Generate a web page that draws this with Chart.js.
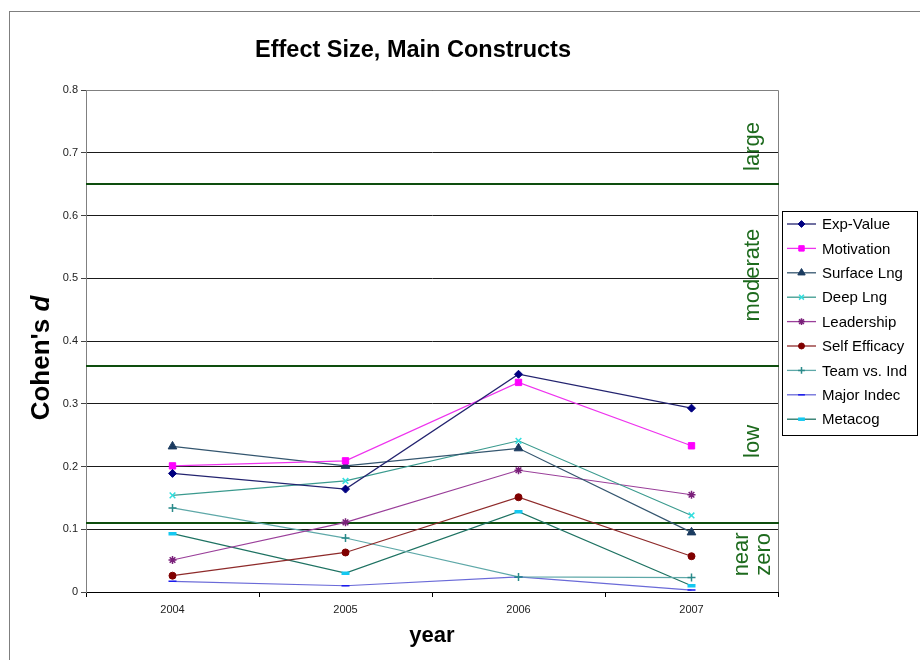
<!DOCTYPE html>
<html>
<head>
<meta charset="utf-8">
<title>Effect Size, Main Constructs</title>
<script src="https://cdn.jsdelivr.net/npm/chart.js@4.4.1/dist/chart.umd.min.js"></script>
<style>
  body { margin: 0; background: #fff; }
  #wrap { width: 920px; height: 660px; }
</style>
</head>
<body>
<div id="wrap"><canvas id="effect-chart" width="920" height="660"></canvas></div>
<script>
// values
const years = ['2004', '2005', '2006', '2007'];
const yTickLabels = ['0', '0.1', '0.2', '0.3', '0.4', '0.5', '0.6', '0.7', '0.8'];

const seriesNames = ['Exp-Value', 'Motivation', 'Surface Lng', 'Deep Lng', 'Leadership',
                     'Self Efficacy', 'Team vs. Ind', 'Major Indec', 'Metacog'];
const expValue     = [0.189, 0.164, 0.347, 0.293];
const motivation   = [0.201, 0.209, 0.334, 0.233];
const surfaceLng   = [0.232, 0.201, 0.229, 0.095];
const deepLng      = [0.154, 0.177, 0.241, 0.122];
const leadership   = [0.051, 0.111, 0.194, 0.155];
const selfEfficacy = [0.026, 0.063, 0.151, 0.057];
const teamVsInd    = [0.134, 0.086, 0.024, 0.023];
const majorIndec   = [0.017, 0.010, 0.024, 0.003];
const metacog      = [0.093, 0.030, 0.128, 0.010];

// Cohen's d cut-offs and the zone names between them
const effectCutoffs = [0.11, 0.36, 0.65];
const zoneNames = [['near', 'zero'], ['low'], ['moderate'], ['large']];

const FONT = '"Liberation Sans", Arial, sans-serif';

const styles = [
  { line: '#23236f', mark: '#000080', shape: 'rectRot', r: 4 },
  { line: '#ee33ee', mark: '#ff00ff', shape: 'rect', r: 4.5 },
  { line: '#34566f', mark: '#1b3b60', shape: 'triangle', r: 5 },
  { line: '#3a9a8e', mark: '#33dede', shape: 'crossRot', r: 4 },
  { line: '#9a3f9a', mark: '#7a1f7a', shape: 'star', r: 4 },
  { line: '#8e2a2a', mark: '#800000', shape: 'circle', r: 3.5 },
  { line: '#5ea8a8', mark: '#2a8a8a', shape: 'cross', r: 4 },
  { line: '#6a6ad8', mark: '#1a1aee', shape: 'line', r: 4 },
  { line: '#1e7262', mark: '#14c8f0', shape: 'line', r: 4 }
];
const allValues = [expValue, motivation, surfaceLng, deepLng, leadership,
                   selfEfficacy, teamVsInd, majorIndec, metacog];

const datasets = allValues.map((vals, i) => {
  const s = styles[i];
  const stroked = ['crossRot', 'star', 'cross', 'line'].includes(s.shape);
  return {
    label: seriesNames[i],
    data: vals,
    borderColor: s.line,
    borderWidth: 1.2,
    pointStyle: s.shape,
    pointRadius: s.r,
    pointBackgroundColor: s.mark,
    pointBorderColor: s.mark,
    pointBorderWidth: stroked ? (i === 8 ? 3.5 : 1.5) : 1,
    tension: 0,
    fill: false
  };
});

const decorations = {
  id: 'decorations',
  beforeDraw(chart) {
    const ctx = chart.ctx;
    ctx.save();
    ctx.fillStyle = '#fff';
    ctx.fillRect(0, 0, chart.width, chart.height);
    // outer frame (runs off the right and bottom edges)
    ctx.strokeStyle = '#7f7f7f';
    ctx.lineWidth = 1;
    ctx.strokeRect(9.5, 11.5, chart.width + 20, chart.height + 20);
    // chart title
    ctx.fillStyle = '#000';
    ctx.font = 'bold 23.5px ' + FONT;
    ctx.textAlign = 'center';
    ctx.textBaseline = 'alphabetic';
    ctx.fillText('Effect Size, Main Constructs', 413, 57);
    // y title with italic d
    const a = chart.chartArea;
    ctx.translate(49, (a.top + a.bottom) / 2 + 17);
    ctx.rotate(-Math.PI / 2);
    ctx.textAlign = 'left';
    ctx.font = 'bold 26px ' + FONT;
    const part1 = "Cohen's ";
    const w1 = ctx.measureText(part1).width;
    ctx.font = 'italic bold 26px ' + FONT;
    const w2 = ctx.measureText('d').width;
    const start = -(w1 + w2) / 2;
    ctx.font = 'bold 26px ' + FONT;
    ctx.fillText(part1, start, 0);
    ctx.font = 'italic bold 26px ' + FONT;
    ctx.fillText('d', start + w1, 0);
    ctx.restore();
  },
  beforeDatasetsDraw(chart) {
    const { ctx, chartArea: a, scales: { y } } = chart;
    ctx.save();
    // plot area border, top and right
    ctx.strokeStyle = '#808080';
    ctx.lineWidth = 1;
    ctx.beginPath();
    ctx.moveTo(a.left, Math.round(a.top) + 0.5);
    ctx.lineTo(Math.round(a.right) + 0.5, Math.round(a.top) + 0.5);
    ctx.lineTo(Math.round(a.right) + 0.5, a.bottom);
    ctx.stroke();
    // cut-off lines
    ctx.strokeStyle = '#0e4d0e';
    ctx.lineWidth = 2;
    effectCutoffs.forEach(c => {
      const py = Math.round(y.getPixelForValue(c));
      ctx.beginPath();
      ctx.moveTo(a.left, py);
      ctx.lineTo(a.right + 1, py);
      ctx.stroke();
    });
    // zone names
    const labelAt = [0.06, 0.24, 0.505, 0.71];
    ctx.fillStyle = '#1d6a1d';
    ctx.font = '22px ' + FONT;
    ctx.textAlign = 'center';
    ctx.textBaseline = 'alphabetic';
    zoneNames.forEach((lines, i) => {
      const py = y.getPixelForValue(labelAt[i]);
      lines.forEach((txt, j) => {
        const px = 759 + (j - (lines.length - 1) / 2) * 22;
        ctx.save();
        ctx.translate(px, py);
        ctx.rotate(-Math.PI / 2);
        ctx.fillText(txt, 0, 0);
        ctx.restore();
      });
    });
    ctx.restore();
  },
  afterDraw(chart) {
    const ctx = chart.ctx;
    ctx.save();
    // legend box
    ctx.fillStyle = '#fff';
    ctx.fillRect(782, 211, 136, 225);
    ctx.strokeStyle = '#000';
    ctx.lineWidth = 1;
    ctx.strokeRect(782.5, 211.5, 135, 224);
    ctx.font = '15px ' + FONT;
    ctx.textAlign = 'left';
    ctx.textBaseline = 'middle';
    chart.data.datasets.forEach((ds, i) => {
      const ly = 224 + i * 24.4;
      ctx.strokeStyle = ds.borderColor;
      ctx.lineWidth = 1.3;
      ctx.beginPath();
      ctx.moveTo(787, ly);
      ctx.lineTo(816, ly);
      ctx.stroke();
      ctx.fillStyle = ds.pointBackgroundColor;
      ctx.strokeStyle = ds.pointBorderColor;
      ctx.lineWidth = ds.pointBorderWidth;
      if (Chart.helpers && Chart.helpers.drawPoint) {
        Chart.helpers.drawPoint(ctx, {
          pointStyle: ds.pointStyle,
          radius: ds.pointRadius * 0.85,
          rotation: 0,
          borderWidth: ds.pointBorderWidth
        }, 801.5, ly);
      }
      ctx.fillStyle = '#000';
      ctx.fillText(ds.label, 822, ly + 1);
    });
    ctx.restore();
  }
};

new Chart(document.getElementById('effect-chart'), {
  type: 'line',
  data: { labels: years, datasets: datasets },
  options: {
    responsive: false,
    animation: false,
    layout: { padding: { top: 90, right: 142, bottom: 0, left: 0 } },
    plugins: {
      legend: { display: false },
      title: { display: false },
      tooltip: { enabled: false }
    },
    scales: {
      x: {
        offset: true,
        grid: { offset: true, drawOnChartArea: false, drawTicks: true, tickLength: 5, tickColor: '#000' },
        border: { color: '#000', width: 1 },
        ticks: { color: '#222', font: { family: FONT, size: 11 }, padding: 6, maxRotation: 0 },
        title: {
          display: true, text: 'year', color: '#000',
          font: { family: FONT, size: 22, weight: 'bold' },
          padding: { top: 0, bottom: 11 }
        },
        afterFit: s => { s.height = 68; }
      },
      y: {
        min: 0,
        max: 0.8,
        ticks: {
          stepSize: 0.1,
          color: '#222',
          font: { family: FONT, size: 11 },
          padding: 3,
          callback: (v, i) => yTickLabels[i]
        },
        grid: { color: '#1a1a1a', lineWidth: 1, tickLength: 5, tickColor: '#444' },
        border: { color: '#808080' },
        afterFit: s => { s.width = 86; }
      }
    }
  },
  plugins: [decorations]
});
</script>
</body>
</html>
